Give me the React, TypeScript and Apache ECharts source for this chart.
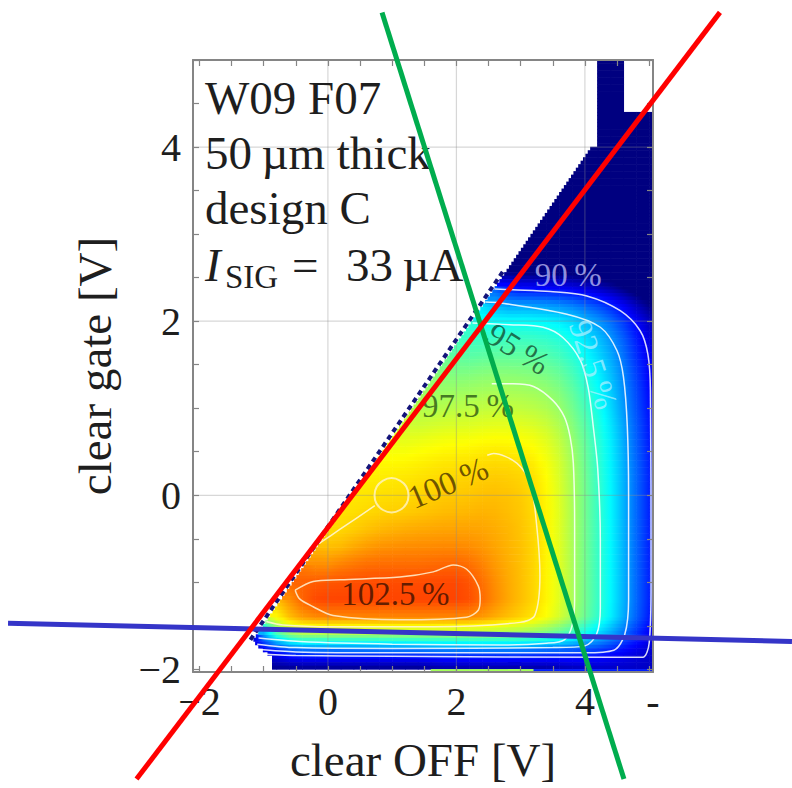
import React, { useEffect, useRef } from "react";
import * as echarts from "echarts";

const SERIF = '"Liberation Serif", "DejaVu Serif", serif';
const INK = "#1e1e1e";
const FRAME = "#858585";

// Axis extents (volts)
const offRange = [-2.1, 5.06];
const gateRange = [-2.03, 5.0];
const offLabelValues = [-2, 0, 2, 4, 5.06];
const gateLabelValues = [-2, 0, 2, 4];
const offTickValues = [-2, -1.5, -1, -0.5, 0, 0.5, 1, 1.5, 2, 2.5, 3, 3.5, 4, 4.5, 5];
const gateTickValues = [-2, -1.5, -1, -0.5, 0, 0.5, 1, 1.5, 2, 2.5, 3, 3.5, 4, 4.5, 5];
const gridOffValues = [0, 2, 4];
const gridGateValues = [0, 2, 4];

// Scan grid: one row per clear-gate voltage, starting at the first measured clear-OFF voltage
const cellStep = 0.2;
const rowGate = [
  -1.9, -1.7, -1.5, -1.3, -1.1, -0.9, -0.7, -0.5, -0.3, -0.1, 0.1, 0.3, 0.5, 0.7, 0.9,
  1.1, 1.3, 1.5, 1.7, 1.9, 2.1, 2.3, 2.5, 2.7, 2.9, 3.1, 3.3, 3.5, 3.7, 3.9, 4.1, 4.3, 4.5, 4.7, 4.9,
];
const rowFirstOff = [
  -0.9, -1.1, -0.9, -0.7, -0.5, -0.3, -0.1, 0.1, 0.3, 0.3, 0.5, 0.7, 0.9, 1.1, 1.3,
  1.5, 1.7, 1.9, 2.1, 2.3, 2.5, 2.7, 2.9, 2.9, 3.1, 3.3, 3.5, 3.7, 3.9, 4.1, 4.3, 4.3, 4.3, 4.3, 4.3,
];
// Relative clear efficiency in percent
const efficiency = [
  [87.2, 87.2, 87.2, 87.2, 87.2, 87.2, 87.2, 87.2, 87.2, 87.2, 87.2, 87.2, 87.2, 87.6, 87.6, 87.6, 87.6, 87.6, 87.6, 87.6, 87.6, 87.6, 87.6, 88.0, 88.0, 88.3, 88.3, 88.3, 88.3, 88.3, 88.3],
  [88.0, 91.0, 93.0, 94.5, 94.5, 94.5, 94.5, 94.5, 94.5, 94.5, 94.5, 94.5, 94.5, 94.5, 94.5, 94.5, 94.5, 94.5, 94.5, 94.5, 94.5, 94.4, 94.2, 93.9, 93.5, 93.0, 92.4, 91.7, 90.9, 90.0, 89.1, 88.3],
  [98.0, 99.5, 100.4, 100.4, 100.4, 100.4, 100.4, 100.4, 100.4, 100.4, 100.4, 100.4, 100.4, 100.4, 100.4, 100.4, 100.4, 100.3, 100.1, 99.9, 99.6, 99.2, 98.6, 97.8, 96.8, 95.7, 94.6, 93.3, 91.9, 90.4, 89.2],
  [100.5, 101.5, 102.4, 102.8, 102.8, 102.8, 102.8, 102.8, 102.8, 102.8, 102.8, 102.8, 102.8, 102.8, 102.8, 102.4, 101.8, 101.2, 100.7, 100.3, 99.8, 99.1, 98.2, 97.1, 96.0, 94.9, 93.6, 92.2, 90.7, 89.5],
  [102.2, 102.9, 102.9, 102.9, 102.9, 102.9, 102.9, 102.9, 102.9, 102.9, 102.9, 102.9, 102.9, 102.9, 102.5, 101.8, 101.2, 100.7, 100.3, 99.8, 99.1, 98.2, 97.1, 96.0, 94.9, 93.6, 92.2, 90.7, 89.5],
  [101.8, 102.0, 102.2, 102.3, 102.5, 102.5, 102.5, 102.5, 102.5, 102.5, 102.6, 102.7, 102.6, 102.2, 101.6, 101.1, 100.7, 100.3, 99.8, 99.1, 98.2, 97.1, 96.0, 94.9, 93.6, 92.2, 90.7, 89.5],
  [100.6, 101.0, 101.3, 101.5, 101.7, 101.7, 101.7, 101.7, 101.7, 101.8, 101.8, 101.8, 101.6, 101.3, 100.9, 100.6, 100.3, 99.8, 99.1, 98.2, 97.1, 96.0, 94.9, 93.6, 92.2, 90.7, 89.5],
  [99.9, 100.3, 100.6, 100.9, 101.1, 101.2, 101.3, 101.3, 101.3, 101.3, 101.3, 101.2, 101.0, 100.8, 100.6, 100.3, 99.8, 99.1, 98.2, 97.1, 96.0, 94.9, 93.6, 92.2, 90.7, 89.5],
  [99.9, 100.1, 100.2, 100.3, 100.4, 100.5, 100.6, 100.7, 100.8, 100.8, 100.9, 100.9, 100.7, 100.5, 100.2, 99.8, 99.1, 98.2, 97.1, 96.0, 94.9, 93.6, 92.2, 90.7, 89.5],
  [99.7, 99.8, 99.9, 100.0, 100.0, 100.1, 100.2, 100.3, 100.4, 100.4, 100.5, 100.6, 100.5, 100.4, 100.2, 99.7, 99.1, 98.2, 97.1, 96.0, 94.9, 93.6, 92.2, 90.7, 89.5],
  [99.6, 99.7, 99.8, 99.8, 99.9, 100.0, 100.1, 100.2, 100.2, 100.3, 100.4, 100.4, 100.3, 100.1, 99.7, 99.0, 98.1, 97.1, 96.0, 94.9, 93.6, 92.2, 90.7, 89.5],
  [99.4, 99.5, 99.5, 99.6, 99.7, 99.8, 99.9, 99.9, 100.0, 100.1, 100.1, 100.0, 99.9, 99.5, 98.9, 98.1, 97.0, 95.9, 94.8, 93.5, 92.2, 90.7, 89.5],
  [99.1, 99.1, 99.2, 99.3, 99.4, 99.5, 99.5, 99.6, 99.7, 99.7, 99.6, 99.5, 99.2, 98.7, 97.9, 96.9, 95.8, 94.8, 93.5, 92.1, 90.6, 89.4],
  [98.5, 98.6, 98.7, 98.8, 98.9, 98.9, 99.0, 99.1, 99.1, 99.1, 99.0, 98.8, 98.3, 97.6, 96.7, 95.7, 94.6, 93.4, 92.0, 90.5, 89.3],
  [97.9, 98.0, 98.1, 98.2, 98.2, 98.3, 98.4, 98.4, 98.4, 98.3, 98.1, 97.8, 97.2, 96.3, 95.4, 94.4, 93.2, 91.8, 90.4, 89.2],
  [97.4, 97.5, 97.6, 97.6, 97.7, 97.8, 97.8, 97.8, 97.7, 97.6, 97.3, 96.8, 96.0, 95.1, 94.1, 92.9, 91.6, 90.2, 89.1],
  [97.0, 97.1, 97.1, 97.2, 97.3, 97.3, 97.3, 97.2, 97.1, 96.8, 96.4, 95.6, 94.8, 93.9, 92.7, 91.5, 90.1, 88.9],
  [96.4, 96.4, 96.5, 96.6, 96.6, 96.6, 96.5, 96.4, 96.2, 95.8, 95.1, 94.3, 93.5, 92.4, 91.2, 89.8, 88.7],
  [95.6, 95.7, 95.8, 95.8, 95.8, 95.8, 95.7, 95.5, 95.1, 94.5, 93.8, 93.0, 92.0, 90.8, 89.5, 88.4],
  [95.1, 95.2, 95.2, 95.2, 95.2, 95.1, 94.9, 94.6, 94.0, 93.3, 92.6, 91.6, 90.5, 89.2, 88.1],
  [93.6, 93.6, 93.6, 93.6, 93.5, 93.4, 93.1, 92.6, 92.1, 91.4, 90.5, 89.5, 88.3, 87.3],
  [91.0, 91.0, 91.0, 90.9, 90.8, 90.6, 90.3, 89.8, 89.3, 88.6, 87.7, 86.6, 85.8],
  [87.5, 87.5, 87.4, 87.4, 87.2, 86.9, 86.6, 86.2, 85.7, 85.0, 84.5, 84.0],
  [85, 85, 85, 85, 85, 85, 85, 85, 85, 85, 85, 85],
  [84, 84, 84, 84, 84, 84, 84, 84, 84, 84, 84],
  [84, 84, 84, 84, 84, 84, 84, 84, 84, 84],
  [84, 84, 84, 84, 84, 84, 84, 84, 84],
  [84, 84, 84, 84, 84, 84, 84, 84],
  [84, 84, 84, 84, 84, 84, 84],
  [84, 84, 84, 84, 84, 84],
  [84, 84, 84, 84, 84],
  [84, 84, 84, 84, 84],
  [84, 84],
  [84, 84],
  [84, 84],
];

// Separate readings taken at the lowest clear-gate setting
const bottomRowGate = -2.1;
const bottomRowFirstOff = 1.7;
const bottomRowEfficiency = [97.5, 97.5, 97.5, 97.5, 97.5, 97.5, 97.5, 97.5, 90, 90, 90, 90, 90, 90, 90, 90, 90, 90];

// Left limit of the scanned region: [clear gate, first clear OFF]
const scanEdge = [[-2.03, -0.87], [-1.86, -0.87], [-1.72, -1.12], [-1.66, -1.16], [4.0, 4.1], [4.0, 4.19], [5.0, 4.19]];
// Part of that limit where the outermost scan points read low
const lowEdgeGate = [-1.66, 2.6];

// Jet colour scale
const jetColors = ["#000080", "#0000ff", "#0080ff", "#00ffff", "#80ff80", "#ffff00", "#ff8000", "#ff0000", "#800000"];
const colorMin = 87;
const colorMax = 106.6;

// Iso-efficiency lines [clear OFF, clear gate]
const contour1025 = [[-0.51, -1.09], [-0.23, -0.99], [0.19, -0.97], [1.12, -0.94], [1.64, -0.88], [1.95, -0.8], [2.16, -0.85], [2.34, -1.04], [2.37, -1.19], [2.34, -1.32], [2.16, -1.4], [1.12, -1.43], [0.08, -1.38], [-0.23, -1.28], [-0.44, -1.19], [-0.51, -1.09]];
const contour100a = [[-0.13, -0.55], [0.19, -0.39], [0.73, -0.12]];
const contour100b = [[2.48, 0.46], [2.58, 0.48], [2.94, 0.37], [3.15, 0.14], [3.25, -0.35], [3.3, -0.92], [3.22, -1.38], [2.99, -1.46], [1.64, -1.51], [0.08, -1.51], [-0.7, -1.49], [-0.96, -1.45]];
const contour975 = [[2.55, 1.28], [2.88, 1.28], [3.2, 1.25], [3.5, 1.09], [3.68, 0.9], [3.77, 0.67], [3.82, 0.37], [3.84, -0.35], [3.84, -1.2], [3.8, -1.5], [3.68, -1.66], [3.4, -1.7], [2.68, -1.72], [1.0, -1.71], [-0.44, -1.68], [-1.08, -1.64]];
const contour95 = [[2.25, 1.98], [2.83, 1.96], [3.35, 1.93], [3.66, 1.81], [3.93, 1.55], [4.05, 1.24], [4.13, 0.79], [4.2, 0.3], [4.24, -0.5], [4.24, -1.3], [4.18, -1.6], [4.0, -1.73], [3.5, -1.75], [1.0, -1.76], [-0.5, -1.75], [-1.1, -1.71]];
const contour925 = [[2.45, 2.22], [2.68, 2.21], [3.72, 2.08], [4.24, 1.93], [4.5, 1.66], [4.6, 1.36], [4.66, 0.79], [4.68, 0], [4.68, -1.2], [4.62, -1.6], [4.45, -1.78], [4.0, -1.81], [1.0, -1.81], [-0.5, -1.8], [-1.1, -1.77]];
const contour90 = [[2.6, 2.37], [2.88, 2.36], [3.46, 2.34], [4.03, 2.29], [4.55, 2.12], [4.86, 1.89], [4.98, 1.62], [5.02, 1.2], [5.03, -1.0], [5.0, -1.7], [4.9, -1.86], [4.5, -1.86], [1.0, -1.85], [-0.5, -1.84], [-1.1, -1.82]];

const contourLabels = [
  { text: "90\u2009%", off: 3.74, gate: 2.53, rot: 0, color: "rgba(200,200,255,0.9)" },
  { text: "92.5\u2009%", off: 4.13, gate: 1.5, rot: -72, color: "rgba(175,240,255,0.9)" },
  { text: "95\u2009%", off: 2.96, gate: 1.68, rot: -32, color: "rgba(15,60,35,0.9)" },
  { text: "97.5\u2009%", off: 2.18, gate: 1.02, rot: 0, color: "rgba(30,70,15,0.9)" },
  { text: "100\u2009%", off: 1.87, gate: 0.14, rot: 23, color: "rgba(55,35,0,0.9)" },
  { text: "102.5\u2009%", off: 1.05, gate: -1.13, rot: 0, color: "rgba(40,10,0,0.9)" },
];

// Chosen operating point
const operatingPoint = [0.99, 0.0];

// Straight guide lines drawn across the map
const redGuide = [[-2.979, -3.26], [6.102, 5.547]];
const greenGuide = [[0.842, 5.547], [4.608, -3.26]];
const blueGuide = [[-4.979, -1.469], [7.223, -1.679]];

const infoLines = ["W09 F07", "50\u2009\u00b5m thick", "design C"];

const jetRGB = jetColors.map((h) => [
  parseInt(h.slice(1, 3), 16),
  parseInt(h.slice(3, 5), 16),
  parseInt(h.slice(5, 7), 16),
]);

function jet(v: number): string {
  let t = (v - colorMin) / (colorMax - colorMin);
  t = Math.max(0, Math.min(1, t));
  const p = t * (jetRGB.length - 1);
  const i = Math.min(jetRGB.length - 2, Math.floor(p));
  const f = p - i;
  const a = jetRGB[i];
  const b = jetRGB[i + 1];
  const c = a.map((ch, k) => Math.round(ch + (b[k] - ch) * f));
  return `rgb(${c[0]},${c[1]},${c[2]})`;
}

function scanEdgeAt(gate: number): number {
  for (let i = 0; i < scanEdge.length - 1; i++) {
    const [g0, x0] = scanEdge[i];
    const [g1, x1] = scanEdge[i + 1];
    if (g1 === g0) continue;
    if (gate >= g0 && gate <= g1) return x0 + ((gate - g0) / (g1 - g0)) * (x1 - x0);
  }
  return gate < scanEdge[0][0] ? scanEdge[0][1] : scanEdge[scanEdge.length - 1][1];
}

function fmtTick(v: number): string {
  if (v > 5) return "-";
  if (v < 0) return "\u2212" + Math.abs(v);
  return String(v);
}

const key = (x: number, y: number) => `${x.toFixed(1)},${y.toFixed(1)}`;

// Each cell: [off, gate, value, cornerTL, cornerTR, cornerBL, cornerBR, isFirstInRow]
function buildCells() {
  const lookup = new Map<string, number>();
  const raw: number[][] = [];
  efficiency.forEach((row, i) => {
    row.forEach((v, j) => {
      const x = +(rowFirstOff[i] + j * cellStep).toFixed(2);
      lookup.set(key(x, rowGate[i]), v);
      raw.push([x, rowGate[i], v, j === 0 ? 1 : 0]);
    });
  });
  const corner = (x: number, y: number, dx: number, dy: number) => {
    const pts = [[x, y], [x + dx, y], [x, y + dy], [x + dx, y + dy]];
    let s = 0;
    let n = 0;
    pts.forEach(([px, py]) => {
      const v = lookup.get(key(px, py));
      if (v !== undefined) {
        s += v;
        n += 1;
      }
    });
    return s / n;
  };
  const cells = raw.map(([x, y, v, first]) => [
    x,
    y,
    v,
    corner(x, y, -cellStep, cellStep),
    corner(x, y, cellStep, cellStep),
    corner(x, y, -cellStep, -cellStep),
    corner(x, y, cellStep, -cellStep),
    first,
  ]);
  bottomRowEfficiency.forEach((v, j) => {
    const x = +(bottomRowFirstOff + j * cellStep).toFixed(2);
    cells.push([x, bottomRowGate, v, v, v, v, v, 0]);
  });
  return cells;
}

function contourSeries(points: number[][], color: string) {
  return {
    type: "line",
    data: points,
    showSymbol: false,
    symbol: "none",
    smooth: 0.3,
    silent: true,
    z: 4,
    lineStyle: { color, width: 1.5 },
  };
}

export default function App() {
  const ref = useRef<HTMLDivElement>(null);

  useEffect(() => {
    if (!ref.current) return;
    const chart = echarts.init(ref.current, null, { renderer: "svg" });
    const cells = buildCells();
    const half = cellStep / 2;
    const strips = 5;

    const gridSeries = [
      ...gridOffValues.map((v) => ({
        type: "line",
        data: [[v, gateRange[0]], [v, gateRange[1]]],
        symbol: "none",
        silent: true,
        z: 3,
        lineStyle: { color: "rgba(140,140,140,0.35)", width: 1.2 },
      })),
      ...gridGateValues.map((v) => ({
        type: "line",
        data: [[offRange[0], v], [offRange[1], v]],
        symbol: "none",
        silent: true,
        z: 3,
        lineStyle: { color: "rgba(140,140,140,0.35)", width: 1.2 },
      })),
    ];

    const textElements: any[] = [
      ...infoLines.map((t, i) => ({
        id: "info" + i,
        type: "text",
        x: 205,
        y: 98 + i * 55,
        z: 6,
        silent: true,
        style: { text: t, fontSize: 47, fontFamily: SERIF, fill: INK, verticalAlign: "middle" },
      })),
      {
        id: "isigI",
        type: "text",
        x: 205,
        y: 265,
        z: 6,
        silent: true,
        style: { text: "I", fontSize: 47, fontStyle: "italic", fontFamily: SERIF, fill: INK, verticalAlign: "middle" },
      },
      {
        id: "isigSub",
        type: "text",
        x: 225,
        y: 277,
        z: 6,
        silent: true,
        style: { text: "SIG", fontSize: 33, fontFamily: SERIF, fill: INK, verticalAlign: "middle" },
      },
      {
        id: "isigEq",
        type: "text",
        x: 292,
        y: 265,
        z: 6,
        silent: true,
        style: { text: "=", fontSize: 47, fontFamily: SERIF, fill: INK, verticalAlign: "middle" },
      },
      {
        id: "isigVal",
        type: "text",
        x: 346,
        y: 265,
        z: 6,
        silent: true,
        style: { text: "33\u2009\u00b5A", fontSize: 47, fontFamily: SERIF, fill: INK, verticalAlign: "middle" },
      },
    ];

    const option: any = {
      animation: false,
      backgroundColor: "#ffffff",
      grid: { left: 193, top: 60, width: 460, height: 617, containLabel: false },
      xAxis: [
        {
          type: "value",
          min: offRange[0],
          max: offRange[1],
          position: "bottom",
          z: 5,
          axisLine: { show: true, onZero: false, lineStyle: { color: FRAME, width: 2 } },
          axisTick: { show: true, inside: true, length: 6, customValues: offTickValues, lineStyle: { color: FRAME, width: 1.2 } },
          axisLabel: {
            customValues: offLabelValues,
            formatter: fmtTick,
            fontSize: 40,
            fontFamily: SERIF,
            color: INK,
            margin: 9,
            hideOverlap: false,
          },
          splitLine: { show: false },
          name: "clear OFF [V]",
          nameLocation: "middle",
          nameGap: 64,
          nameTextStyle: { fontSize: 47, fontFamily: SERIF, color: INK },
        },
        {
          type: "value",
          min: offRange[0],
          max: offRange[1],
          position: "top",
          z: 5,
          axisLine: { show: true, onZero: false, lineStyle: { color: FRAME, width: 2 } },
          axisTick: { show: true, inside: true, length: 6, customValues: offTickValues, lineStyle: { color: FRAME, width: 1.2 } },
          axisLabel: { show: false },
          splitLine: { show: false },
        },
      ],
      yAxis: [
        {
          type: "value",
          min: gateRange[0],
          max: gateRange[1],
          position: "left",
          z: 5,
          axisLine: { show: true, onZero: false, lineStyle: { color: FRAME, width: 2 } },
          axisTick: { show: true, inside: true, length: 6, customValues: gateTickValues, lineStyle: { color: FRAME, width: 1.2 } },
          axisLabel: {
            customValues: gateLabelValues,
            formatter: fmtTick,
            fontSize: 40,
            fontFamily: SERIF,
            color: INK,
            margin: 12,
            hideOverlap: false,
          },
          splitLine: { show: false },
          name: "clear gate [V]",
          nameLocation: "middle",
          nameGap: 75,
          nameTextStyle: { fontSize: 47, fontFamily: SERIF, color: INK },
        },
        {
          type: "value",
          min: gateRange[0],
          max: gateRange[1],
          position: "right",
          z: 5,
          axisLine: { show: true, onZero: false, lineStyle: { color: FRAME, width: 2 } },
          axisTick: { show: true, inside: true, length: 6, customValues: gateTickValues, lineStyle: { color: FRAME, width: 1.2 } },
          axisLabel: { show: false },
          splitLine: { show: false },
        },
      ],
      graphic: textElements,
      series: [
        {
          type: "custom",
          data: cells,
          clip: true,
          silent: true,
          z: 1,
          encode: { x: 0, y: 1 },
          renderItem: (params: any, api: any) => {
            const [x, y, , tl, tr, bl, br, first] = cells[params.dataIndex];
            const xL = api.coord([x - half, y])[0];
            const xR = api.coord([x + half, y])[0];
            const children: any[] = [];
            for (let s = 0; s < strips; s++) {
              const t0 = s / strips;
              const t1 = (s + 1) / strips;
              const tm = (t0 + t1) / 2;
              const gTop = y + half - t0 * cellStep;
              const gBot = y + half - t1 * cellStep;
              const edge = scanEdgeAt((gTop + gBot) / 2);
              const left = first ? edge : Math.max(x - half, edge);
              const right = x + half;
              if (left >= right) continue;
              const p0 = api.coord([left, gTop]);
              const p1 = api.coord([right, gBot]);
              const vl = tl + (bl - tl) * tm;
              const vr = tr + (br - tr) * tm;
              children.push({
                type: "rect",
                shape: { x: p0[0], y: p0[1] - 0.3, width: p1[0] - p0[0] + 0.6, height: p1[1] - p0[1] + 0.6 },
                style: {
                  fill: new echarts.graphic.LinearGradient(
                    xL,
                    0,
                    xR,
                    0,
                    [
                      { offset: 0, color: jet(vl) },
                      { offset: 0.5, color: jet((vl + vr) / 2) },
                      { offset: 1, color: jet(vr) },
                    ],
                    true
                  ),
                },
              });
            }
            return { type: "group", children };
          },
        },
        ...gridSeries,
        contourSeries(contour1025, "rgba(255,235,200,0.9)"),
        contourSeries(contour100a, "rgba(255,245,210,0.9)"),
        contourSeries(contour100b, "rgba(255,245,210,0.9)"),
        contourSeries(contour975, "rgba(255,255,255,0.85)"),
        contourSeries(contour95, "rgba(255,255,255,0.85)"),
        contourSeries(contour925, "rgba(255,255,255,0.85)"),
        contourSeries(contour90, "rgba(255,255,255,0.85)"),
        {
          type: "scatter",
          data: [operatingPoint],
          symbol: "circle",
          symbolSize: 34,
          silent: true,
          z: 5,
          itemStyle: { color: "rgba(0,0,0,0)", borderColor: "#fff4c8", borderWidth: 2 },
        },
        {
          type: "scatter",
          symbolSize: 1,
          silent: true,
          z: 6,
          itemStyle: { color: "rgba(0,0,0,0)" },
          data: contourLabels.map((l) => ({
            value: [l.off, l.gate],
            label: {
              show: true,
              position: "inside",
              formatter: l.text,
              rotate: l.rot,
              color: l.color,
              fontSize: 33,
              fontFamily: SERIF,
            },
          })),
        },
      ],
    };

    chart.setOption(option);

    const toPx = (p: number[]) => chart.convertToPixel({ xAxisIndex: 0, yAxisIndex: 0 }, p) as number[];

    // Low-reading outermost scan points along the diagonal limit, just outside the coloured area
    const e0 = toPx([scanEdgeAt(lowEdgeGate[0]), lowEdgeGate[0]]);
    const e1 = toPx([scanEdgeAt(lowEdgeGate[1]), lowEdgeGate[1]]);
    const edgeTeeth = {
      id: "edgeTeeth",
      type: "line",
      z: 7,
      silent: true,
      shape: { x1: e0[0] - 3, y1: e0[1], x2: e1[0] - 3, y2: e1[1] },
      style: { stroke: "#14147a", lineWidth: 4, lineDash: [5, 4] },
    };

    // Guide lines run past the plot frame, so they are placed as graphics from their data coordinates
    const guides = [
      { id: "guideBlue", pts: blueGuide, color: "#3535c8", z: 50 },
      { id: "guideGreen", pts: greenGuide, color: "#00ad4e", z: 51 },
      { id: "guideRed", pts: redGuide, color: "#ff0000", z: 52 },
    ].map((g) => {
      const a = toPx(g.pts[0]);
      const b = toPx(g.pts[1]);
      return {
        id: g.id,
        type: "line",
        z: g.z,
        silent: true,
        shape: { x1: a[0], y1: a[1], x2: b[0], y2: b[1] },
        style: { stroke: g.color, lineWidth: 5 },
      };
    });
    chart.setOption({ graphic: [...textElements, edgeTeeth, ...guides] });

    return () => chart.dispose();
  }, []);

  return (
    <div
      ref={ref}
      style={{ position: "fixed", left: 0, top: 0, width: 792, height: 788, background: "#ffffff" }}
    />
  );
}
